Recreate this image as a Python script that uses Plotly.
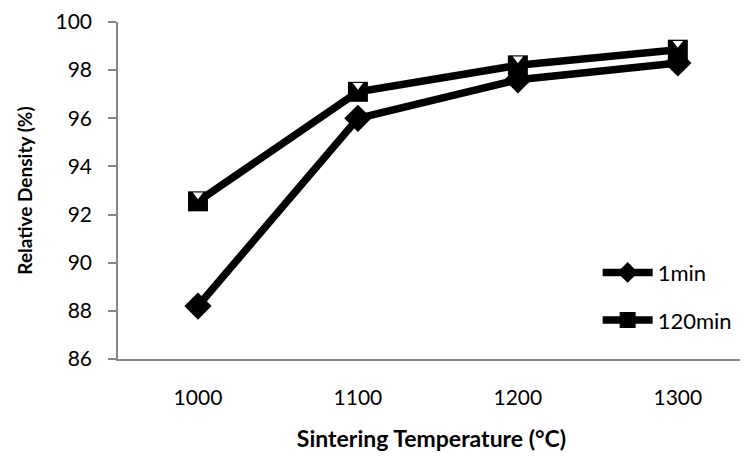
import plotly.graph_objects as go

temps = ["1000", "1100", "1200", "1300"]
density_1min = [88.2, 96.0, 97.6, 98.3]
density_120min = [92.55, 97.1, 98.2, 98.85]
y_ticks = [86, 88, 90, 92, 94, 96, 98, 100]

FONT = "Lato, 'Open Sans', sans-serif"
AXIS_COLOR = "#868686"

fig = go.Figure()
fig.add_trace(go.Scatter(
    x=temps, y=density_1min, name="1min", mode="lines+markers",
    line=dict(color="black", width=7.5),
    marker=dict(symbol="diamond", size=21, color="black"),
    legendgroup="a",
))
fig.add_trace(go.Scatter(
    x=temps, y=density_120min, name="120min", mode="lines+markers",
    line=dict(color="black", width=7.5),
    marker=dict(symbol="square", size=20, color="black"),
    legendgroup="b",
))
# white notch at the top of the square markers (shifted via overlay axis)
fig.add_trace(go.Scatter(
    x=temps, y=density_120min, mode="markers", showlegend=False,
    marker=dict(symbol="triangle-down", size=9, color="white", line=dict(width=0)),
    yaxis="y2", hoverinfo="skip",
))

shift = 6.5 / 24.0
fig.update_layout(
    width=740, height=454,
    margin=dict(l=110, r=3, t=14, b=103, autoexpand=False),
    paper_bgcolor="white", plot_bgcolor="white",
    font=dict(family=FONT, size=21, color="black"),
    showlegend=True,
    legend=dict(
        x=0.765, y=0.185, xanchor="left", yanchor="middle",
        font=dict(family=FONT, size=22, color="black"),
        tracegroupgap=16, bgcolor="rgba(0,0,0,0)", itemwidth=50,
    ),
    xaxis=dict(
        type="category", range=[-0.5, 3.42], automargin=False,
        showline=True, linecolor=AXIS_COLOR, linewidth=1.5,
        ticks="", showgrid=False, zeroline=False,
        ticklabelstandoff=19,
        tickfont=dict(family=FONT, size=21, color="black"),
        title=dict(text="<b>Sintering Temperature (°C)</b>", standoff=23,
                   font=dict(family=FONT, size=23, color="black")),
    ),
    yaxis=dict(
        range=[86, 100], tickvals=y_ticks, automargin=False,
        showline=True, linecolor=AXIS_COLOR, linewidth=1.5,
        ticks="outside", ticklen=8, tickcolor=AXIS_COLOR, tickwidth=1.5,
        showgrid=False, zeroline=False, ticklabelstandoff=12,
        ticklabeloverflow="allow",
        tickfont=dict(family=FONT, size=21, color="black"),
        title=dict(text="<b>Relative Density (%)</b>", standoff=18,
                   font=dict(family=FONT, size=19, color="black")),
    ),
    yaxis2=dict(
        overlaying="y", range=[86 - shift, 100 - shift], visible=False,
    ),
)

fig.write_html("out.html")
